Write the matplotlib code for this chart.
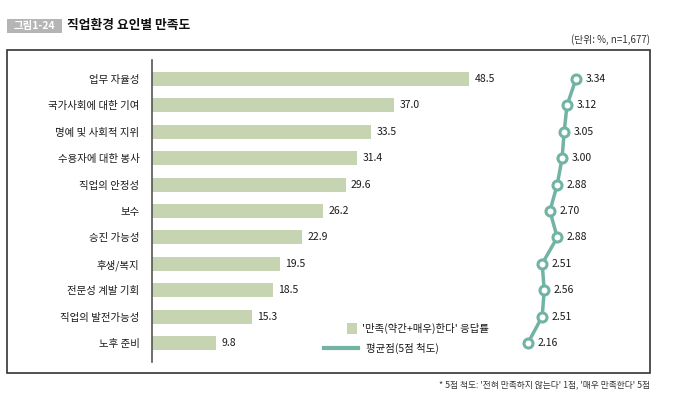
import matplotlib
matplotlib.use('Agg')
import matplotlib.pyplot as plt
from matplotlib.patches import Rectangle
from matplotlib.lines import Line2D

plt.rcParams['font.family'] = ['Noto Sans CJK KR', 'DejaVu Sans']

categories = ['업무 자율성', '국가사회에 대한 기여', '명예 및 사회적 지위', '수용자에 대한 봉사',
              '직업의 안정성', '보수', '승진 가능성', '후생/복지', '전문성 계발 기회',
              '직업의 발전가능성', '노후 준비']
rates = [48.5, 37.0, 33.5, 31.4, 29.6, 26.2, 22.9, 19.5, 18.5, 15.3, 9.8]
means = [3.34, 3.12, 3.05, 3.00, 2.88, 2.70, 2.88, 2.51, 2.56, 2.51, 2.16]

bar_col = '#c6d4b1'
line_col = '#72b4a4'
txt_col = '#1a1a1a'
W, H = 680, 398

fig = plt.figure(figsize=(6.8, 3.98), dpi=100)

def fx(px):
    return px / W

def fy(py):
    return 1 - py / H

# main axes: x from 152px to 650px, y from 60px to 362px
ax = fig.add_axes([fx(152), fy(362), fx(650 - 152), fy(60) - fy(362)])
ypos = list(range(len(categories)))
ax.barh(ypos, rates, height=0.53, color=bar_col)
for y, v in zip(ypos, rates):
    ax.text(v + 0.8, y, f'{v:.1f}', va='center', ha='left', fontsize=7.5, color=txt_col)
ax.set_xlim(0, 76.1)
ax.set_ylim(10.72, -0.72)
ax.set_yticks(ypos)
ax.set_yticklabels(categories, fontsize=7.5, color=txt_col, fontweight='medium')
ax.tick_params(axis='y', length=0, pad=9)
ax.set_xticks([])
for s in ['top', 'right', 'bottom']:
    ax.spines[s].set_visible(False)
ax.spines['left'].set_color('#555555')
ax.spines['left'].set_linewidth(1.2)
ax.patch.set_alpha(0)

# mean score line on its own x scale
ax2 = ax.twiny()
ax2.plot(means, ypos, color=line_col, lw=2.5, marker='o', ms=6.5, mew=2.2,
         mfc='white', mec=line_col, zorder=3)
for y, v in zip(ypos, means):
    ax2.text(v + 0.24, y, f'{v:.2f}', va='center', ha='left', fontsize=7.5, color=txt_col)
ax2.set_xlim(-7.08, 5.16)
ax2.set_ylim(10.72, -0.72)
ax2.set_xticks([])
for s in ax2.spines.values():
    s.set_visible(False)

# outer frame
fig.patches.append(Rectangle((fx(7), fy(373)), fx(650 - 7), fy(50) - fy(373), transform=fig.transFigure,
                             fill=False, edgecolor='#333333', lw=1.2))

# title block
fig.patches.append(Rectangle((fx(7), fy(33)), fx(55), fy(19) - fy(33), transform=fig.transFigure,
                             facecolor='#b5b5b5', edgecolor='none'))
fig.text(fx(34.5), fy(26), '그림1-24', ha='center', va='center', fontsize=7.5, color='white', fontweight='bold')
fig.text(fx(67), fy(26), '직업환경 요인별 만족도', ha='left', va='center', fontsize=9.2,
         fontweight='bold', color='#111111')
fig.text(fx(650), fy(40), '(단위: %, n=1,677)', ha='right', va='center', fontsize=7, color='#333333')
fig.text(fx(650), fy(385), "* 5점 척도: '전혀 만족하지 않는다' 1점, '매우 만족한다' 5점", ha='right',
         va='center', fontsize=6.3, color='#333333')

# legend
fig.patches.append(Rectangle((fx(347), fy(334)), fx(10), fy(323) - fy(334), transform=fig.transFigure,
                             facecolor=bar_col, edgecolor='none'))
fig.text(fx(362), fy(328.5), "'만족(약간+매우)한다' 응답률", ha='left', va='center', fontsize=7.5,
         color=txt_col, fontweight='medium')
fig.lines.append(Line2D([fx(324), fx(358)], [fy(348), fy(348)], transform=fig.transFigure,
                        color=line_col, lw=3))
fig.text(fx(366), fy(348), '평균점(5점 척도)', ha='left', va='center', fontsize=7.5,
         color=txt_col, fontweight='medium')

fig.savefig('out.png', dpi=100)
